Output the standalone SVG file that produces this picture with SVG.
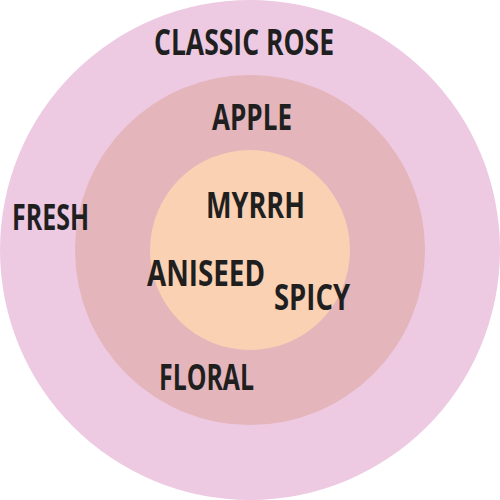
<svg xmlns="http://www.w3.org/2000/svg" width="500" height="500" viewBox="0 0 500 500">
<style>
text{font-family:"Open Sans","Liberation Sans",sans-serif;font-weight:bold;font-size:35px;fill:#1f1f1f;}
</style>
<g id="outer"><circle cx="250" cy="250" r="250" fill="#edcae2"/></g>
<g id="middle"><circle cx="250" cy="250" r="175" fill="#e4b5ba"/></g>
<g id="inner"><circle cx="250" cy="250" r="100" fill="#fad1b3"/></g>
<g id="connectors"></g>
<g id="labels">
<text id="t1" x="154" y="55" textLength="180" lengthAdjust="spacingAndGlyphs">CLASSIC ROSE</text>
<text id="t2" x="12" y="230" textLength="77" lengthAdjust="spacingAndGlyphs">FRESH</text>
<text id="t3" x="212" y="130" textLength="80" lengthAdjust="spacingAndGlyphs">APPLE</text>
<text id="t4" x="206" y="218" textLength="99" lengthAdjust="spacingAndGlyphs">MYRRH</text>
<text id="t5" x="147" y="286" textLength="118" lengthAdjust="spacingAndGlyphs">ANISEED</text>
<text id="t6" x="274" y="310" textLength="76" lengthAdjust="spacingAndGlyphs">SPICY</text>
<text id="t7" x="159" y="390" textLength="95" lengthAdjust="spacingAndGlyphs">FLORAL</text>
</g>
</svg>
